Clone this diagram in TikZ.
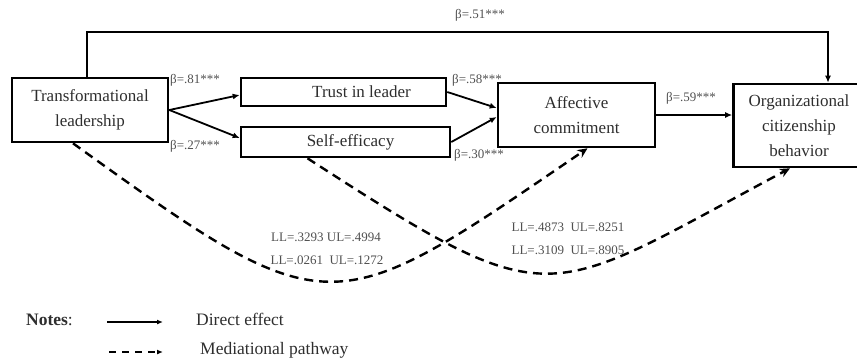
\documentclass[tikz,border=0pt]{standalone}
\usepackage{fontspec}
\setmainfont{Liberation Serif}
\usetikzlibrary{arrows.meta,calc}
\definecolor{boxtxt}{HTML}{2E2E2E}
\definecolor{lbltxt}{HTML}{505050}
\begin{document}
\begin{tikzpicture}[x=1pt,y=-1pt,
  box/.style={draw=black,line width=2.6pt,align=center,inner sep=0pt,text=boxtxt,
    font=\fontsize{17}{25}\selectfont},
  lbl/.style={text=lbltxt,inner sep=0pt,font=\fontsize{13}{15}\selectfont},
  arr/.style={line width=1.8pt,-{Latex[length=7pt,width=6pt]}},
  darr/.style={line width=2.4pt,dash pattern=on 9pt off 6pt,-{Stealth[length=10pt,width=9pt]}},
  leg/.style={text=boxtxt,inner sep=0pt,anchor=west,font=\fontsize{17.5}{20}\selectfont}]
\useasboundingbox (0,0) rectangle (857,360);
% boxes
\node[box,minimum width=156pt,minimum height=64pt] (TL) at (90,110) {Transformational\\leadership};
\node[box,minimum width=205pt,minimum height=28pt] (TR) at (343.5,92) {\hspace*{36pt}Trust in leader};
\node[box,minimum width=209pt,minimum height=30pt] (SE) at (345.5,142) {\hspace*{10pt}Self-efficacy};
\node[box,minimum width=157pt,minimum height=64pt] (AC) at (576.5,115) {Affective\\commitment};
\node[box,minimum width=125pt,minimum height=83pt] (OCB) at (796,125.5) {\hspace*{6pt}Organizational\\\hspace*{6pt}citizenship\\\hspace*{6pt}behavior};
% direct paths
\draw[arr] (TL.east) -- ([yshift=-3pt]TR.west);
\draw[arr] (TL.east) -- ([yshift=4pt]SE.west);
\draw[arr] (TR.east) -- ([yshift=7pt]AC.west);
\draw[arr] (SE.east) -- ([yshift=-2pt]AC.west);
\draw[arr] (AC.east) -- (AC.east -| OCB.west);
\coordinate (topL) at (87,32);
\draw[arr] (TL.north -| topL) -- (topL) -| ([xshift=32pt]OCB.north);
% coefficients
\node[lbl] (b51) at (480,15) {β=.51***};
\node[lbl] (b81) at (195,80) {β=.81***};
\node[lbl] (b27) at (195,146) {β=.27***};
\node[lbl] (b58) at (477,80) {β=.58***};
\node[lbl] (b30) at (479,155) {β=.30***};
\node[lbl] (b59) at (691,98) {β=.59***};
% mediational paths
\draw[darr] ([xshift=-17pt]TL.south) .. controls (331,329) and (330,324) .. ([xshift=11pt]AC.south);
\draw[darr] ([xshift=-38pt]SE.south) .. controls (556,319) and (541,301) .. ([xshift=-6pt]OCB.south);
% CI labels
\node[lbl] (c1) at (326,237) {LL=.3293 UL=.4994};
\node[lbl] (c2) at (327,260) {LL=.0261\ \ UL=.1272};
\node[lbl] (c3) at (568,227) {LL=.4873\ \ UL=.8251};
\node[lbl] (c4) at (568,250) {LL=.3109\ \ UL=.8905};
% legend
\node[leg] (notes) at (26,320) {\textbf{Notes}:};
\coordinate (l1a) at (107,322);
\coordinate (l1b) at (163,322);
\coordinate (l2a) at (109,352);
\coordinate (l2b) at (163,352);
\draw[line width=1.8pt,-{Latex[length=6pt,width=5pt]}] (l1a) -- (l1b);
\draw[line width=2.2pt,dash pattern=on 7pt off 6pt,-{Latex[length=6pt,width=5pt]}] (l2a) -- (l2b);
\node[leg] (de) at (196,319) {Direct effect};
\node[leg] (mp) at (200,350) {Mediational pathway};
\end{tikzpicture}
\end{document}
